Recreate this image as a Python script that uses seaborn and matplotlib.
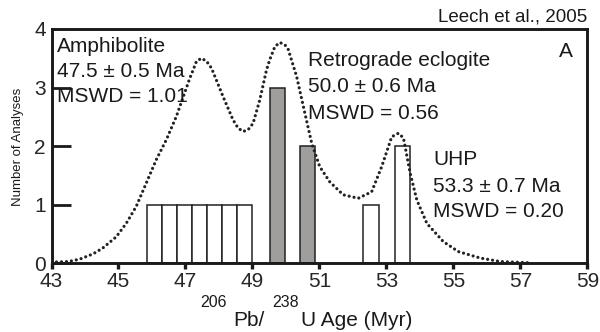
import matplotlib
matplotlib.use("Agg")
import matplotlib.pyplot as plt
import seaborn as sns
import pandas as pd

# ---- data ----
bar_centers = [46.075, 46.525, 46.975, 47.425, 47.875, 48.325, 48.775,
               49.74, 50.64, 52.54, 53.49]
bar_counts = [1, 1, 1, 1, 1, 1, 1, 3, 2, 1, 2]
bar_groups = ["open"] * 7 + ["grey", "grey"] + ["open", "open"]

curve_x = [43.0, 43.5, 43.84, 44.24, 44.53, 44.93, 45.23, 45.53, 45.83, 46.13,
           46.43, 46.73, 47.13, 47.23, 47.33, 47.48, 47.63, 47.78, 48.12, 48.42,
           48.57, 48.72, 48.87, 49.02, 49.22, 49.42, 49.52, 49.67, 49.82, 49.97,
           50.07, 50.32, 50.52, 50.77, 51.01, 51.31, 51.71, 52.16, 52.56, 52.86,
           53.16, 53.36, 53.51, 53.71, 53.91, 54.21, 54.70, 55.15, 55.8, 56.4, 57.24]
curve_y = [0.02, 0.03, 0.07, 0.16, 0.26, 0.45, 0.68, 0.97, 1.37, 1.77,
           2.11, 2.51, 3.16, 3.30, 3.45, 3.50, 3.45, 3.33, 2.85, 2.45,
           2.31, 2.25, 2.28, 2.39, 2.79, 3.30, 3.48, 3.70, 3.77, 3.73,
           3.65, 3.19, 2.68, 2.05, 1.65, 1.39, 1.17, 1.11, 1.22, 1.65,
           2.16, 2.22, 2.14, 1.54, 1.08, 0.68, 0.37, 0.20, 0.09, 0.03, 0.01]

x_ticks = [43, 45, 47, 49, 51, 53, 55, 57, 59]
y_ticks = [0, 1, 2, 3, 4]

sns.set_style("white")
plt.rcParams["font.family"] = ["Liberation Sans", "DejaVu Sans"]

W, H = 600, 332
fig = plt.figure(figsize=(W / 100, H / 100), dpi=100)
ax = fig.add_axes([51.5 / W, (H - 263.3) / H, (587.3 - 51.5) / W, (263.3 - 29) / H])

bars_df = pd.DataFrame({"age": bar_centers, "n": bar_counts, "g": bar_groups})
sns.barplot(data=bars_df, x="age", y="n", hue="g",
            palette={"open": "white", "grey": "#a09c9c"},
            native_scale=True, width=1.0, dodge=False, errorbar=None,
            edgecolor="#222222", linewidth=1.1, legend=False, ax=ax, zorder=2)

curve_df = pd.DataFrame({"x": curve_x, "y": curve_y})
sns.lineplot(data=curve_df, x="x", y="y", ax=ax, color="#222222",
             linewidth=2.3, linestyle=(0, (0.01, 1.55)),
             dash_capstyle="round", zorder=3)

ax.set_xlim(43, 59)
ax.set_ylim(0, 4)
ax.set_xticks(x_ticks)
ax.set_xticklabels([str(t) for t in x_ticks])
ax.set_yticks(y_ticks)
ax.set_yticklabels([str(t) for t in y_ticks])
ax.set_xlabel("")
ax.set_ylabel("")

for s in ax.spines.values():
    s.set_visible(True)
    s.set_linewidth(2.1)
    s.set_color("#1a1a1a")

ax.tick_params(axis="x", direction="out", length=4, width=2.4, color="#1a1a1a",
               labelsize=15, pad=2, bottom=True)
ax.tick_params(axis="y", direction="in", length=14, width=2.0, color="#1a1a1a",
               labelsize=15, pad=4, left=True)
ax.tick_params(axis="y", which="major")
# hide tick at 4 (coincides with top spine)
ax.yaxis.get_major_ticks()[-1].tick1line.set_visible(False)


def ftext(px, py, s, size=15, **kw):
    fig.text(px / W, 1 - py / H, s, fontsize=size, va="baseline", ha="left",
             color="#1a1a1a", **kw)


ftext(438, 21.7, "Leech et al., 2005", size=13.5)
ftext(559, 57.3, "A", size=15)

ftext(57, 52.3, "Amphibolite")
ftext(57, 77.3, "47.5 ± 0.5 Ma")
ftext(57, 101.7, "MSWD = 1.01")

ftext(308, 66, "Retrograde eclogite")
ftext(308, 92.3, "50.0 ± 0.6 Ma")
ftext(308, 119, "MSWD = 0.56")

ftext(433, 165, "UHP")
ftext(433, 191.7, "53.3 ± 0.7 Ma")
ftext(433, 216.7, "MSWD = 0.20")

# x label with superscripts
ftext(200, 306.7, "206", size=11.5)
ftext(233, 326.5, "Pb/", size=15)
ftext(272.5, 306.7, "238", size=11.5)
ftext(301.5, 326.5, "U Age (Myr)", size=15)

fig.text(18 / W, 1 - 147 / H, "Number of Analyses", fontsize=9.5, rotation=90,
         va="center", ha="center", color="#1a1a1a")

fig.savefig("out.png", dpi=100)
